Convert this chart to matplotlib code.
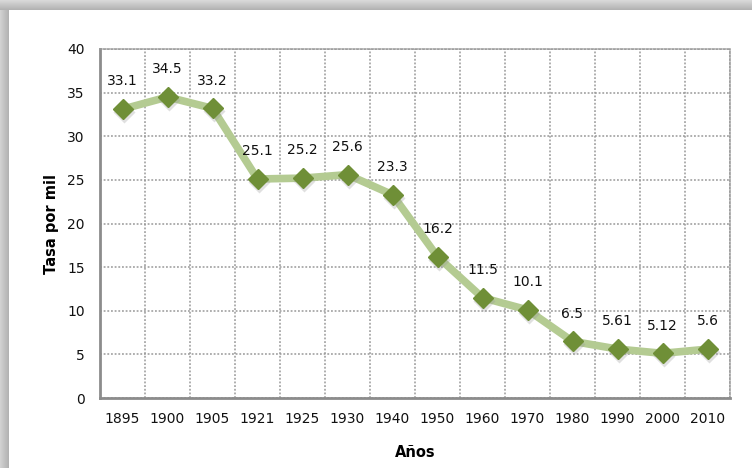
import numpy as np
import matplotlib
matplotlib.use("Agg")
import matplotlib.pyplot as plt
import matplotlib.transforms as mtransforms

years = ["1895", "1900", "1905", "1921", "1925", "1930", "1940", "1950",
         "1960", "1970", "1980", "1990", "2000", "2010"]
values = [33.1, 34.5, 33.2, 25.1, 25.2, 25.6, 23.3, 16.2, 11.5, 10.1, 6.5, 5.61, 5.12, 5.6]
value_labels = ["33.1", "34.5", "33.2", "25.1", "25.2", "25.6", "23.3", "16.2",
                "11.5", "10.1", "6.5", "5.61", "5.12", "5.6"]
yticks = [0, 5, 10, 15, 20, 25, 30, 35, 40]

W, H = 752, 468
fig = plt.figure(figsize=(W / 100, H / 100), dpi=100)

# background with shadow at top/left
bg = np.ones((H, W, 3))
for r in range(10):
    g = 0.85 - 0.15 * r / 9
    bg[r, :, :] = g
for c in range(9):
    g = 0.82 - 0.12 * c / 8
    bg[10:, c, :] = np.minimum(bg[10:, c, :], g)
axbg = fig.add_axes([0, 0, 1, 1], zorder=-5)
axbg.imshow(bg, aspect="auto", extent=(0, 1, 0, 1))
axbg.axis("off")

ax = fig.add_axes([100 / W, 1 - 398 / H, (730 - 100) / W, (398 - 49) / H])
x = np.arange(len(years))

ax.plot(x, values, color="#b4cb92", lw=5.5, zorder=3, solid_capstyle="round")
shadow_tr = ax.transData + mtransforms.ScaledTranslation(1 / 100, -3 / 100, fig.dpi_scale_trans)
ax.plot(x, values, linestyle="none", marker="D", ms=11.5, color="#999999", alpha=0.3,
        markeredgecolor="none", zorder=3.5, transform=shadow_tr)
ax.plot(x, values, linestyle="none", marker="D", ms=10.5, color="#6f8f37",
        markeredgecolor="#6f8f37", zorder=4)

for xi, v, lab in zip(x, values, value_labels):
    ax.annotate(lab, (xi, v), xytext=(0, 20), textcoords="offset points",
                ha="center", va="center", fontsize=10, color="#111111", zorder=5)

ax.set_xlim(-0.5, len(years) - 0.5)
ax.set_ylim(0, 40)
ax.set_yticks(yticks)
ax.set_xticks(x)
ax.set_xticklabels(years)
ax.set_xticks(np.arange(-0.5, len(years)), minor=True)
ax.tick_params(axis="both", which="both", length=0, labelsize=10, colors="#111111")
ax.tick_params(axis="x", pad=10)
ax.tick_params(axis="y", pad=11)

ax.grid(axis="y", which="major", linestyle=(0, (1.2, 1.2)), color="#999999", lw=1.1)
ax.grid(axis="x", which="minor", linestyle=(0, (1.2, 1.2)), color="#999999", lw=1.1)
ax.grid(axis="x", which="major", visible=False)

for s in ["top", "right"]:
    ax.spines[s].set_linestyle((0, (1.2, 1.2)))
    ax.spines[s].set_color("#999999")
    ax.spines[s].set_linewidth(1.1)
for s in ["left", "bottom"]:
    ax.spines[s].set_color("#8c8c8c")
    ax.spines[s].set_linewidth(2)

ax.set_ylabel("Tasa por mil", fontsize=10.5, fontweight="bold", labelpad=6)
ax.set_xlabel("Años", fontsize=10.5, fontweight="bold", labelpad=14)

fig.savefig("out.png", dpi=100)
